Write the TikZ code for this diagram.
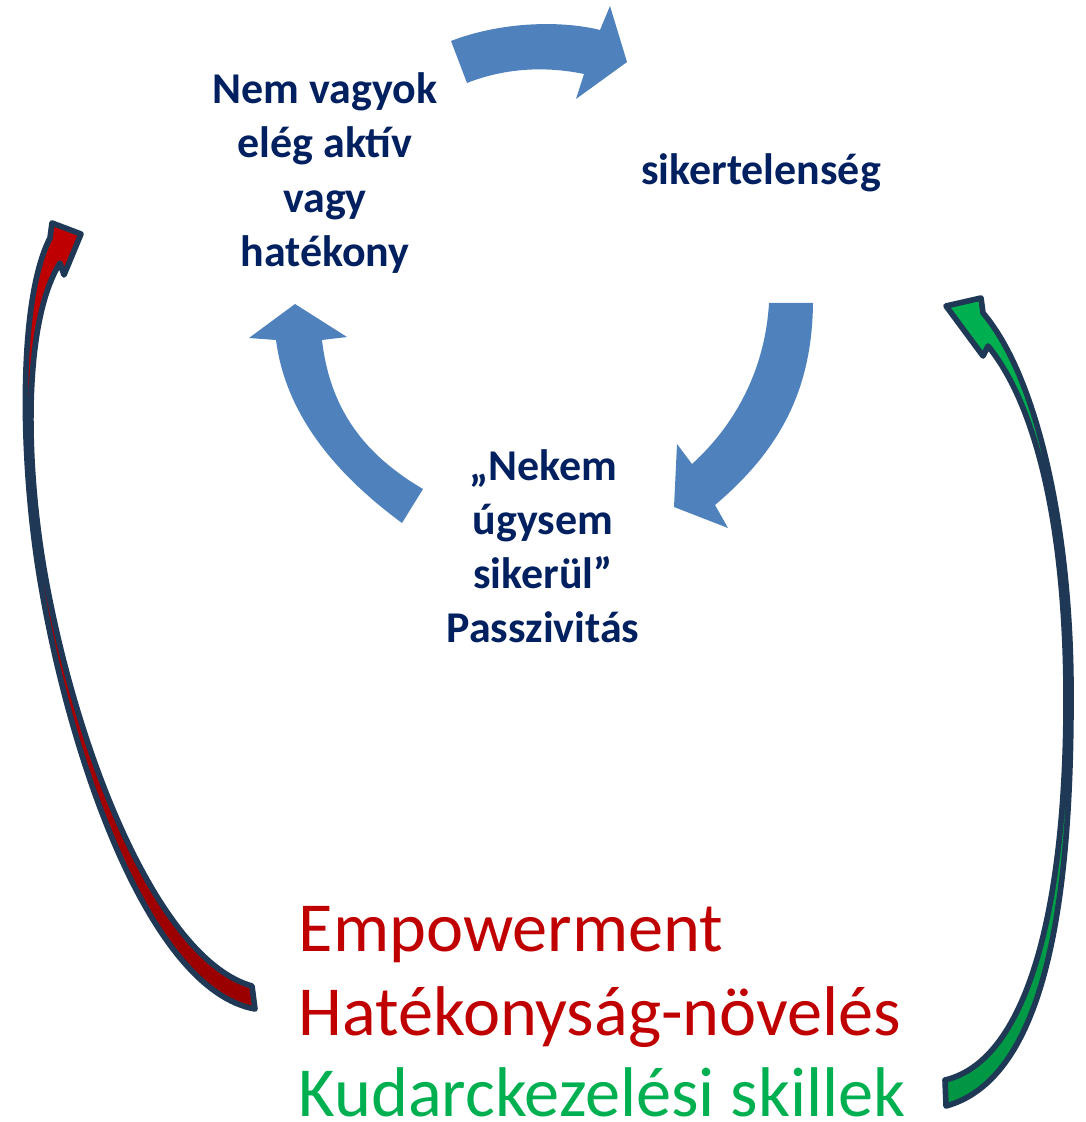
\documentclass[tikz,border=0pt]{standalone}
\usepackage{fontspec}
\setmainfont{Carlito}
\usepackage{tikz}
\usetikzlibrary{%
  positioning,%
  calc%
}
\definecolor{cyclearrow}{HTML}{4F81BD}
\definecolor{darktext}{HTML}{002060}
\definecolor{ribbonline}{HTML}{1F3856}
\definecolor{empred}{HTML}{C00000}
\definecolor{skillgreen}{HTML}{00B050}

\begin{document}
\begin{tikzpicture}[x=0.01cm,y=-0.01cm,
  cycletext/.style={text=darktext, font=\bfseries\fontsize{12.5}{15.4}\selectfont, align=center},
  bigtext/.style={anchor=base west, inner sep=0pt, font=\fontsize{20}{24}\selectfont},
  ribbon/.style={draw=ribbonline, line width=1.6pt, line join=round}]
\useasboundingbox (0,0) rectangle (1086,1122);

\node [cycletext] (passive) at (325,173) {Nem vagyok\\elég aktív\\vagy\\hatékony};
\node [cycletext] (failure) at (761,173) {sikertelenség};
\node [cycletext] (giveup) at (543,546) {„Nekem\\úgysem\\sikerül”\\Passzivitás};

\fill [cyclearrow] (451,41) .. controls (500,22) and (560,20) .. (600,30) -- (610,6) -- (627,62)
  -- (576,99) -- (584,74) .. controls (545,66) and (505,68) .. (467,83) -- cycle;
\fill [cyclearrow] (769,303) -- (813,303) .. controls (812,390) and (780,450) .. (715,505)
  -- (728,528) -- (674,507) -- (677,444) -- (692,464) .. controls (735,425) and (765,370) .. (769,303) -- cycle;
\fill [cyclearrow] (295,304) -- (347,337) -- (322,340) .. controls (330,410) and (365,455) .. (423,489)
  -- (402,523) .. controls (330,470) and (285,410) .. (276,340) -- (249,338) -- cycle;

\path [ribbon, top color=empred, bottom color=empred!80!black]
  (50,238) -- (52,223) -- (81,234) -- (64,275) -- (60,263)
  .. controls (24,320) and (24,460) .. (46,580)
  .. controls (79,760) and (160,960) .. (252,986)
  -- (255,1009)
  .. controls (150,990) and (70,760) .. (40,580)
  .. controls (20,460) and (18,300) .. (50,238) -- cycle;
\path [ribbon, top color=skillgreen, bottom color=skillgreen!85!black]
  (983,313) -- (981,298) -- (946,306) -- (983,356) -- (988,346)
  .. controls (1040,410) and (1066,540) .. (1066,700)
  .. controls (1066,900) and (1030,1060) .. (945,1080)
  -- (946,1106)
  .. controls (1040,1080) and (1071,920) .. (1071,700)
  .. controls (1072,540) and (1040,380) .. (983,313) -- cycle;

\node [bigtext, text=empred] (empower) at (298,951) {Empowerment};
\node [bigtext, text=empred] (efficiency) at (298,1035) {Hatékonyság-növelés};
\node [bigtext, text=skillgreen] (skills) at (298,1116) {Kudarckezelési skillek};
\end{tikzpicture}
\end{document}
